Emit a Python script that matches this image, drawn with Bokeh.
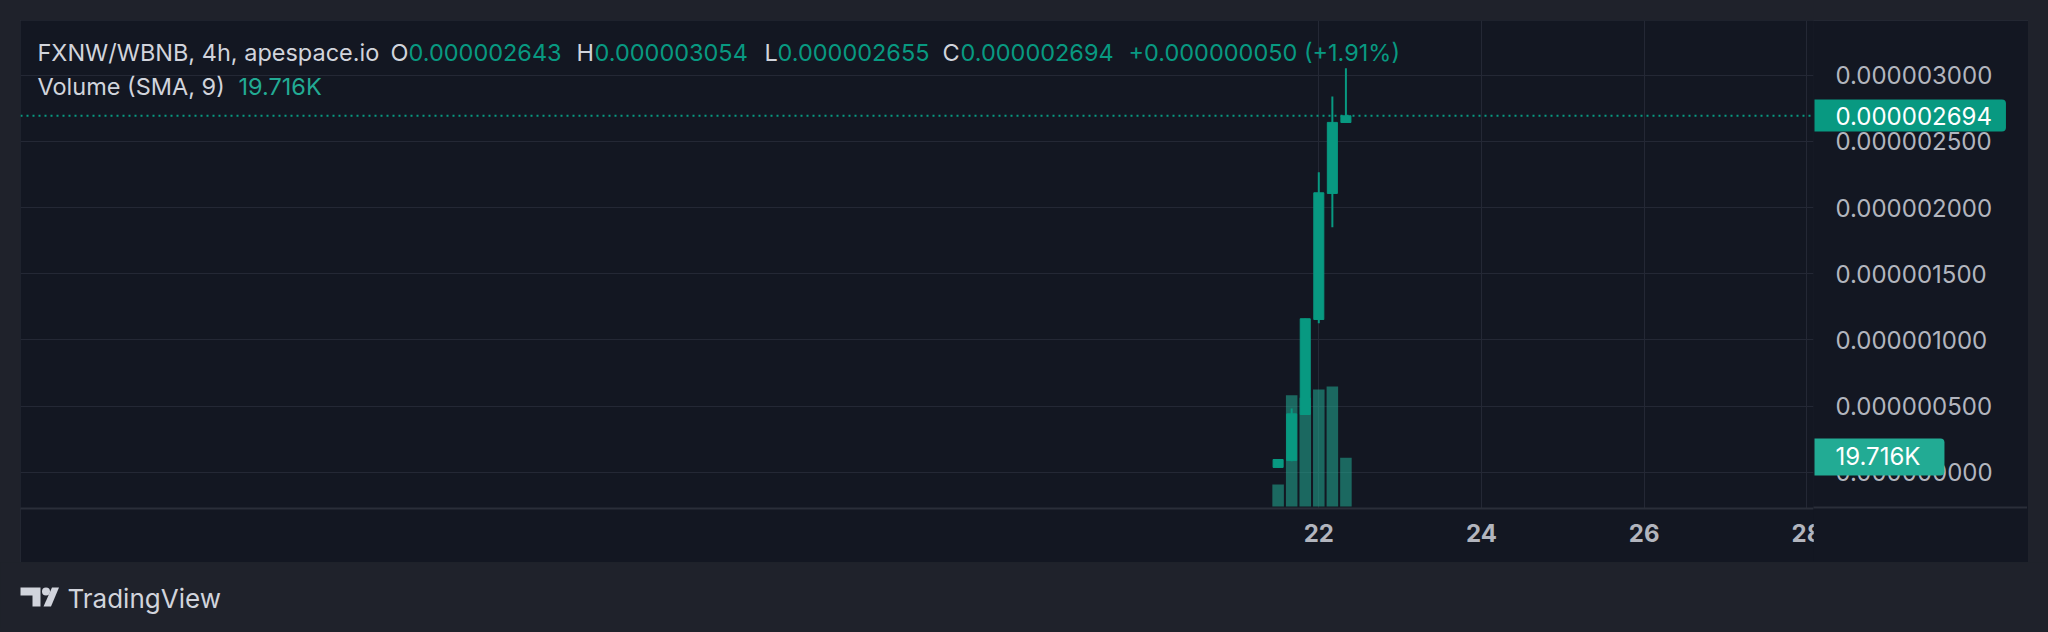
import pandas as pd
from bokeh.plotting import figure
from bokeh.layouts import column, row
from bokeh.models import (ColumnDataSource, Range1d, FixedTicker, PrintfTickFormatter,
                          DatetimeTickFormatter, Span, Label, GlobalInlineStyleSheet)
from bokeh.core.properties import value
from bokeh.embed import file_html
from bokeh.resources import INLINE

# ---------------- data ----------------
times = ["2023-06-21 12:00", "2023-06-21 16:00", "2023-06-21 20:00",
         "2023-06-22 00:00", "2023-06-22 04:00", "2023-06-22 08:00"]
opens = [0.000000036, 0.000000088, 0.000000436, 0.000001154, 0.000002107, 0.000002643]
highs = [0.000000096, 0.000000481, 0.000001160, 0.000002268, 0.000002840, 0.000003054]
lows = [0.000000036, 0.000000083, 0.000000436, 0.000001126, 0.000001852, 0.000002655]
closes = [0.000000096, 0.000000441, 0.000001160, 0.000002112, 0.000002644, 0.000002694]
volumes = [8900, 45000, 44000, 47400, 48600, 19716]

price_ticks = [0.0, 0.0000005, 0.000001, 0.0000015, 0.000002, 0.0000025, 0.000003]
date_ticks = ["2023-06-22", "2023-06-24", "2023-06-26", "2023-06-28"]

symbol_text = "FXNW/WBNB, 4h, apespace.io"
change_text = "+0.000000050 (+1.91%)"
volume_title = "Volume (SMA, 9)"

# ---------------- style ----------------
OUTER = "#1f222b"
PANEL = "#131722"
GRID = "#242835"
BORDER = "#2a2e39"
GREEN = "#089981"
VOLGREEN = "#22ab94"
AXTXT = "#b2b5be"
TXT = "#d1d4dc"
FONT = "Inter"

t = pd.to_datetime(times)
interval_ms = 4 * 3600 * 1000
src = ColumnDataSource(dict(t=t, o=opens, h=highs, l=lows, c=closes, v=volumes))

day22 = pd.Timestamp(date_ticks[0])
day = pd.Timedelta(days=1)
x_start = day22 - 15.959 * day
x_end = day22 + 6.081 * day

p = figure(width=2008, height=542, x_axis_type="datetime", y_axis_location="right",
           x_range=Range1d(x_start, x_end), y_range=Range1d(-0.0000002744, 0.0000034142),
           toolbar_location=None, output_backend="svg",
           min_border_left=0, min_border_top=0, min_border_right=215, min_border_bottom=54,
           background_fill_color=PANEL, border_fill_color=PANEL, outline_line_color=None)
p.margin = (20, 20, 0, 20)
p.styles = {"outline": f"1px solid {BORDER}", "outline-offset": "-1px"}

vol_range = Range1d(-810, 196730)
p.extra_y_ranges = {"vol": vol_range}

# grids
date_ms = [pd.Timestamp(d).value // 10**6 for d in date_ticks]
p.xgrid.ticker = FixedTicker(ticks=date_ms)
p.ygrid.ticker = FixedTicker(ticks=price_ticks)
p.xgrid.grid_line_color = GRID
p.ygrid.grid_line_color = GRID
p.xgrid.grid_line_width = 1
p.ygrid.grid_line_width = 1

# x axis
xa = p.xaxis[0]
xa.ticker = FixedTicker(ticks=date_ms)
xa.formatter = DatetimeTickFormatter(days="%d", months="%d", hours="%d", years="%d")
xa.major_tick_line_color = None
xa.minor_tick_line_color = None
xa.axis_line_color = BORDER
xa.axis_line_width = 2
xa.major_label_text_color = AXTXT
xa.major_label_text_font = FONT
xa.major_label_text_font_size = "24px"
xa.major_label_text_font_style = "bold"
xa.major_label_standoff = 9

# y axis (price)
ya = p.yaxis[0]
ya.ticker = FixedTicker(ticks=price_ticks)
ya.formatter = PrintfTickFormatter(format="%.9f")
ya.major_tick_line_color = None
ya.minor_tick_line_color = None
ya.axis_line_color = None
ya.major_label_text_color = AXTXT
ya.major_label_text_font = FONT
ya.major_label_text_font_size = "24px"
ya.major_label_standoff = 16

# volume bars
p.vbar(x="t", top="v", bottom=0, width=0.85 * interval_ms, source=src, y_range_name="vol",
       fill_color=VOLGREEN, fill_alpha=0.55, line_color=None)

# candles
p.segment(x0="t", y0="l", x1="t", y1="h", source=src, line_color=GREEN, line_width=2)
p.vbar(x="t", top="c", bottom="o", width=0.74 * interval_ms, source=src,
       fill_color=GREEN, line_color=GREEN, line_width=1)

# last price line
p.add_layout(Span(location=closes[-1], dimension="width", line_color=GREEN,
                  line_dash="2 4", line_width=2))

# header legend
FS = "23.5px"
row1 = [(17, symbol_text, TXT), (370, "O", TXT), (388, f"{opens[-1]:.9f}", GREEN),
        (556, "H", TXT), (574, f"{highs[-1]:.9f}", GREEN),
        (744, "L", TXT), (757, f"{lows[-1]:.9f}", GREEN),
        (922, "C", TXT), (940, f"{closes[-1]:.9f}", GREEN),
        (1108, change_text, GREEN)]
for xx, txt, col in row1:
    p.add_layout(Label(x=xx, y=456, x_units="screen", y_units="screen", text=txt,
                       text_color=col, text_font=FONT, text_font_size=FS,
                       text_baseline="middle", text_align="left"))
row2 = [(17, volume_title, TXT), (218, f"{volumes[-1] / 1000:.3f}K", VOLGREEN)]
for xx, txt, col in row2:
    p.add_layout(Label(x=xx, y=422, x_units="screen", y_units="screen", text=txt,
                       text_color=col, text_font=FONT, text_font_size=FS,
                       text_baseline="middle", text_align="left"))

# ---------------- price-scale overlay (tags) ----------------
q = figure(width=214, height=541, x_range=Range1d(0, 214), y_range=p.y_range,
           toolbar_location=None, output_backend="svg", y_axis_location=None,
           min_border_left=0, min_border_right=0, min_border_top=0, min_border_bottom=53,
           background_fill_alpha=0, border_fill_color=PANEL, outline_line_color=None)
q.extra_y_ranges = {"vol": vol_range}
q.margin = (20, 0, 0, -235)
q.grid.visible = False
qa = q.xaxis[0]
qa.ticker = FixedTicker(ticks=[])
qa.axis_line_color = BORDER
qa.axis_line_width = 2
qa.major_tick_line_color = None
qa.minor_tick_line_color = None

q.add_layout(Label(x=1, y=closes[-1], x_units="screen", text=f"{closes[-1]:.9f}",
                   text_color="#ffffff", text_font=FONT, text_font_size="24px",
                   text_baseline="middle", text_align="left",
                   background_fill_color=GREEN, padding=(21, 14, 7, 7),
                   border_radius=(0, 4, 4, 0)))
q.add_layout(Label(x=1, y=volumes[-1], y_range_name="vol", x_units="screen",
                   text=f"{volumes[-1] / 1000:.3f}K",
                   text_color="#ffffff", text_font=FONT, text_font_size="24px",
                   text_baseline="middle", text_align="left",
                   background_fill_color=VOLGREEN, padding=(21, 24, 4, 4),
                   border_radius=(0, 4, 4, 0)))

# ---------------- footer with logo ----------------
f = figure(width=2048, height=66, x_range=Range1d(0, 2048), y_range=Range1d(628, 562),
           toolbar_location=None, output_backend="svg", x_axis_location=None,
           y_axis_location=None, min_border=0, background_fill_color=OUTER,
           border_fill_color=OUTER, outline_line_color=None)
f.grid.visible = False
f.patches(xs=[[20, 40, 40, 32, 32, 20], [51.5, 58.5, 50.5, 43]],
          ys=[[587, 587, 606, 606, 595, 595], [587, 587, 606, 606]],
          fill_color=TXT, line_color=None)
f.scatter(x=[45.5], y=[591], size=8, fill_color=TXT, line_color=None)
f.text(x=[67], y=[598], text=["TradingView"], text_font=value(FONT), text_font_size="26px",
       text_baseline="middle", text_align="left", text_color=TXT)

root = column(row(p, q, spacing=0), f, spacing=0, styles={"background-color": OUTER},
              stylesheets=[GlobalInlineStyleSheet(css="html, body { background-color: #1f222b !important; }")])

open("out.html", "w").write(file_html(root, INLINE))
